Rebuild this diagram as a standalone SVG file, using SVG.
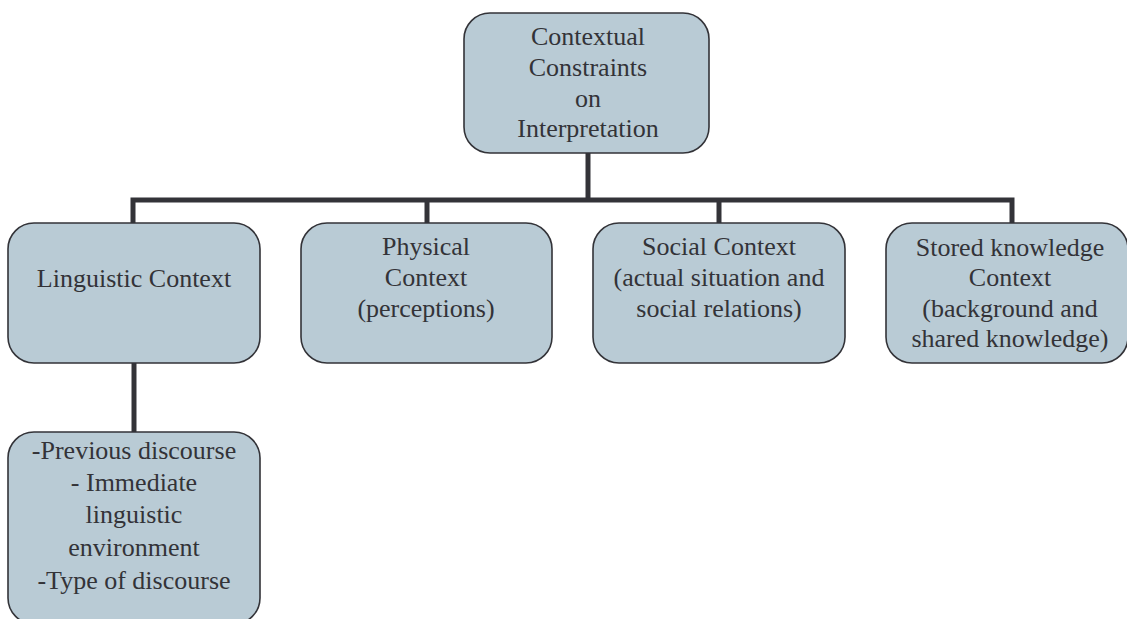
<svg xmlns="http://www.w3.org/2000/svg" width="1127" height="619" viewBox="0 0 1127 619">
<style>
.box{fill:#b9cbd5;stroke:#333338;stroke-width:1.6}
.t{font-size:26px;fill:#333338;text-anchor:middle}
.c{fill:none;stroke:#333338;stroke-width:5}
</style>
<rect width="1127" height="619" fill="#ffffff"/>
<g id="connectors">
<path class="c" d="M588,153 V200"/>
<path class="c" d="M133,223 V200 H1012 V223"/>
<path class="c" d="M427,200 V223"/>
<path class="c" d="M719,200 V223"/>
<path class="c" d="M134,363 V432"/>
</g>
<g font-family="Liberation Serif, Times New Roman, serif">
<g id="root">
<rect class="box" x="464" y="13" width="245" height="140" rx="26"/>
<text class="t" x="588" y="45">Contextual</text>
<text class="t" x="588" y="76">Constraints</text>
<text class="t" x="588" y="107">on</text>
<text class="t" x="588" y="137">Interpretation</text>
</g>
<g id="linguistic">
<rect class="box" x="8" y="223" width="252" height="140" rx="26"/>
<text class="t" x="134" y="287">Linguistic Context</text>
</g>
<g id="physical">
<rect class="box" x="301" y="223" width="251" height="140" rx="26"/>
<text class="t" x="426" y="255">Physical</text>
<text class="t" x="426" y="286">Context</text>
<text class="t" x="426" y="317">(perceptions)</text>
</g>
<g id="social">
<rect class="box" x="593" y="223" width="252" height="140" rx="26"/>
<text class="t" x="719" y="255">Social Context</text>
<text class="t" x="719" y="286">(actual situation and</text>
<text class="t" x="719" y="317">social relations)</text>
</g>
<g id="stored">
<rect class="box" x="886" y="223" width="242" height="140" rx="26"/>
<text class="t" x="1010" y="256">Stored knowledge</text>
<text class="t" x="1010" y="286">Context</text>
<text class="t" x="1010" y="317">(background and</text>
<text class="t" x="1010" y="347">shared knowledge)</text>
</g>
<g id="details">
<rect class="box" x="8" y="432" width="252" height="192" rx="26"/>
<text class="t" x="134" y="459">-Previous discourse</text>
<text class="t" x="134" y="491">- Immediate</text>
<text class="t" x="134" y="523">linguistic</text>
<text class="t" x="134" y="556">environment</text>
<text class="t" x="134" y="589">-Type of discourse</text>
</g>
</g>
</svg>
